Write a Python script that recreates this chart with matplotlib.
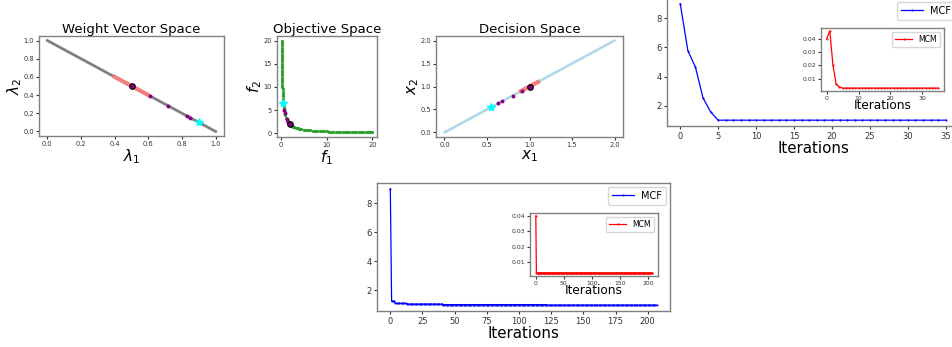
import numpy as np
import matplotlib
matplotlib.use("Agg")
import matplotlib.pyplot as plt

# weight vector space
lam1_line = [0.0, 1.0]
lam2_line = [1.0, 0.0]
lam1_region = [0.4, 0.6]
lam2_region = [0.6, 0.4]
lam1_sel = [0.61, 0.72, 0.83, 0.85]
lam2_sel = [0.39, 0.28, 0.17, 0.15]
lam_ref = [0.5, 0.5]
lam_star = [0.9, 0.1]

# objective space (pareto front points)
f1_front = [0.2, 0.205, 0.21, 0.216, 0.222, 0.229, 0.235, 0.242, 0.25, 0.258,
            0.267, 0.276, 0.286, 0.296, 0.308, 0.32, 0.333, 0.348, 0.364, 0.381,
            0.4, 0.421, 0.444, 0.471, 0.5, 0.533, 0.571, 0.615, 0.667, 0.727,
            0.8, 0.889,
            1.0, 1.25, 1.5, 1.75, 2.0, 2.25, 2.5, 2.75, 3.0, 3.25, 3.5, 3.75,
            4.0, 4.5, 5.0, 5.5, 6.0, 6.5, 7.0, 7.5, 8.0, 8.5, 9.0, 9.5, 10.0,
            10.5, 11.0, 11.5, 12.0, 12.5, 13.0, 13.5, 14.0, 14.5, 15.0, 15.5,
            16.0, 16.5, 17.0, 17.5, 18.0, 18.5, 19.0, 19.5, 20.0]
f2_front = [20, 19.5, 19, 18.5, 18, 17.5, 17, 16.5, 16, 15.5, 15, 14.5, 14, 13.5,
            13, 12.5, 12, 11.5, 11, 10.5, 10, 9.5, 9, 8.5, 8, 7.5, 7, 6.5, 6,
            5.5, 5, 4.5,
            4.0, 3.2, 2.667, 2.286, 2.0, 1.778, 1.6, 1.455, 1.333, 1.231, 1.143,
            1.067,
            1.0, 0.889, 0.8, 0.727, 0.667, 0.615, 0.571, 0.533, 0.5, 0.471,
            0.444, 0.421, 0.4, 0.381, 0.364, 0.348, 0.333, 0.32, 0.308, 0.296,
            0.286, 0.276, 0.267, 0.258, 0.25, 0.242, 0.235, 0.229, 0.222, 0.216,
            0.21, 0.205, 0.2]
f1_region = [1.62, 2.0, 2.42]
f2_region = [2.47, 2.0, 1.65]
f1_sel = [0.79, 0.92, 1.28, 1.66]
f2_sel = [5.04, 4.33, 3.13, 2.42]
f_ref = [2.0, 2.0]
f_star = [0.6, 6.6]

# decision space
x1_line = [0.0, 2.0]
x2_line = [0.0, 2.0]
x1_region = [0.9, 1.1]
x2_region = [0.9, 1.1]
x1_sel = [0.63, 0.68, 0.80, 0.91]
x2_sel = [0.63, 0.68, 0.80, 0.91]
x_ref = [1.0, 1.0]
x_star = [0.55, 0.55]

# run 1 (36 iterations)
mcf_1 = [9.0, 5.78, 4.65, 2.53, 1.57] + [1.0] * 31
mcm_1 = [0.040, 0.046, 0.020, 0.006, 0.0038] + [0.003] * 31

# run 2 (208 iterations) as run-length pairs
mcf_2_vals = [9.0, 1.25, 1.1, 1.05, 1.02, 0.98]
mcf_2_runs = [1, 3, 9, 28, 81, 86]
mcm_2_vals = [0.040, 0.003]
mcm_2_runs = [1, 207]

W, H = 953, 347
fig = plt.figure(figsize=(W / 100, H / 100), dpi=100)


def px_axes(l, t, r, b):
    return fig.add_axes([l / W, 1 - b / H, (r - l) / W, (b - t) / H])


def style(ax, tsize, tlen=2.0):
    for s in ax.spines.values():
        s.set_color("gray")
        s.set_linewidth(1.0)
    ax.tick_params(labelsize=tsize, length=tlen, width=0.8, pad=1.5,
                   colors="#333333")


# --- weight vector space
ax1 = px_axes(39, 36, 224, 136)
ax1.plot(lam1_line, lam2_line, color="gray", lw=2)
ax1.plot(lam1_region, lam2_region, color="lightcoral", lw=3)
ax1.plot(lam1_sel, lam2_sel, "o", color="purple", ms=1.8)
ax1.plot(*lam_ref, "o", mfc="purple", mec="black", ms=4, mew=0.8)
ax1.plot(*lam_star, "*", color="cyan", ms=6)
ax1.set_xticks(np.arange(0, 1.01, 0.2))
ax1.set_yticks(np.arange(0, 1.01, 0.2))
ax1.set_title("Weight Vector Space", fontsize=9.5, pad=2)
ax1.set_xlabel(r"$\lambda_1$", fontsize=11, labelpad=0)
ax1.set_ylabel(r"$\lambda_2$", fontsize=11, labelpad=0)
style(ax1, 4.8)

# --- objective space
ax2 = px_axes(277, 36, 377, 137)
ax2.plot(f1_region, f2_region, color="lightcoral", lw=3)
ax2.plot(f1_front, f2_front, ".", color="tab:green", ms=2.6)
ax2.plot(f1_sel, f2_sel, "o", color="purple", ms=1.8)
ax2.plot(*f_ref, "o", mfc="purple", mec="black", ms=4, mew=0.8)
ax2.plot(*f_star, "*", color="cyan", ms=6)
ax2.set_xticks([0, 10, 20])
ax2.set_yticks([0, 5, 10, 15, 20])
ax2.set_title("Objective Space", fontsize=9.5, pad=2)
ax2.set_xlabel(r"$f_1$", fontsize=11, labelpad=0)
ax2.set_ylabel(r"$f_2$", fontsize=11, labelpad=0)
style(ax2, 4.8)

# --- decision space
ax3 = px_axes(436, 36, 623, 137)
ax3.plot(x1_line, x2_line, color="lightblue", lw=1.8)
ax3.plot(x1_region, x2_region, color="lightcoral", lw=3)
ax3.plot(x1_sel, x2_sel, "o", color="purple", ms=1.8)
ax3.plot(*x_ref, "o", mfc="purple", mec="black", ms=4, mew=0.8)
ax3.plot(*x_star, "*", color="cyan", ms=6)
ax3.set_xticks(np.arange(0, 2.01, 0.5))
ax3.set_yticks(np.arange(0, 2.01, 0.5))
ax3.set_title("Decision Space", fontsize=9.5, pad=2)
ax3.set_xlabel(r"$x_1$", fontsize=11, labelpad=0)
ax3.set_ylabel(r"$x_2$", fontsize=11, labelpad=0)
style(ax3, 4.8)


def conv_panel(box, inset_box, mcf, mcm, xticks, inset_xticks):
    ax = px_axes(*box)
    it = np.arange(len(mcf))
    ax.plot(it, mcf, color="blue", lw=0.9, marker=".", ms=1.0, label="MCF")
    ax.set_xticks(xticks)
    ax.set_yticks([2, 4, 6, 8])
    ax.set_xlabel("Iterations", fontsize=10.8, labelpad=0)
    ax.legend(loc="upper right", fontsize=7, handlelength=2.2,
              borderaxespad=0.4)
    style(ax, 6, 2.5)

    ins = px_axes(*inset_box)
    it2 = np.arange(len(mcm))
    ins.plot(it2, mcm, color="red", lw=0.9, marker=".", ms=1.0, label="MCM")
    ins.set_xticks(inset_xticks)
    ins.set_yticks([0.01, 0.02, 0.03, 0.04])
    ins.set_xlabel("Iterations", fontsize=8.7, labelpad=-1)
    ins.legend(loc="upper right", fontsize=5.6, handlelength=2.2)
    style(ins, 4.4, 2)
    return ax, ins


conv_panel((667, -2, 959, 126), (821, 28, 944, 91), mcf_1, mcm_1,
           [0, 5, 10, 15, 20, 25, 30, 35], [0, 10, 20, 30])

mcf_2 = np.repeat(mcf_2_vals, mcf_2_runs)
mcm_2 = np.repeat(mcm_2_vals, mcm_2_runs)
conv_panel((377, 183, 670, 311), (530, 213, 658, 276), mcf_2, mcm_2,
           [0, 25, 50, 75, 100, 125, 150, 175, 200], [0, 50, 100, 150, 200])

fig.savefig("out.png", dpi=100)
